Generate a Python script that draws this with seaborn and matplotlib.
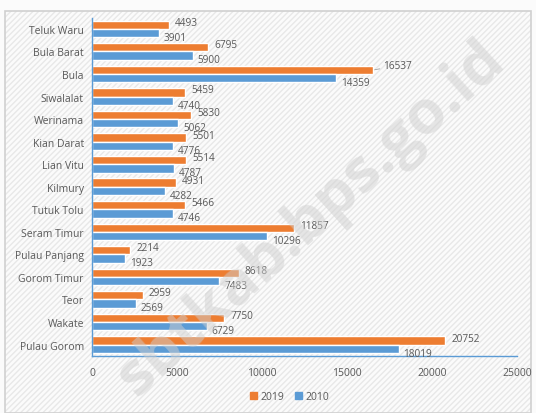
import matplotlib
matplotlib.use("Agg")
import matplotlib.pyplot as plt
import matplotlib.patches as mpatches
import seaborn as sns
import pandas as pd

sns.set_theme(style="white")
plt.rcParams["font.family"] = ["Open Sans", "DejaVu Sans"]
plt.rcParams["hatch.color"] = "#e8e8e8"

districts = ["Teluk Waru", "Bula Barat", "Bula", "Siwalalat", "Werinama",
             "Kian Darat", "Lian Vitu", "Kilmury", "Tutuk Tolu", "Seram Timur",
             "Pulau Panjang", "Gorom Timur", "Teor", "Wakate", "Pulau Gorom"]
pop_2019 = [4493, 6795, 16537, 5459, 5830, 5501, 5514, 4931, 5466, 11857,
            2214, 8618, 2959, 7750, 20752]
pop_2010 = [3901, 5900, 14359, 4740, 5062, 4776, 4787, 4282, 4746, 10296,
            1923, 7483, 2569, 6729, 18019]
years = ["2019", "2010"]
colors = {"2019": "#ED7D31", "2010": "#5B9BD5"}
text_gray = "#595959"

df = pd.DataFrame({
    "district": districts * 2,
    "year": ["2019"] * len(districts) + ["2010"] * len(districts),
    "population": pop_2019 + pop_2010,
})

fig = plt.figure(figsize=(5.36, 4.14), dpi=100)
fig.patch.set_facecolor("#fbfbfb")

# hatched background + light border like the screenshot
bg = mpatches.Rectangle((0.01, 0.0), 0.98, 0.97, transform=fig.transFigure,
                        facecolor="#fbfbfb", edgecolor="#e8e8e8", hatch="//////",
                        linewidth=0, zorder=-3)
fig.patches.append(bg)
border = mpatches.Rectangle((0.01, 0.0), 0.98, 0.97, transform=fig.transFigure,
                            facecolor="none", edgecolor="#d0d0d0", linewidth=1.2,
                            zorder=-2)
fig.patches.append(border)

ax = fig.add_axes([0.172, 0.138, 0.793, 0.817])
ax.patch.set_alpha(0)

sns.barplot(data=df, y="district", x="population", hue="year", hue_order=years,
            palette=colors, orient="h", width=0.74, saturation=1, ax=ax,
            legend=False)

ax.set_xlim(0, 25000)
ax.set_ylim(len(districts) - 0.5, -0.5)
ax.set_xticks([0, 5000, 10000, 15000, 20000, 25000])
ax.set_xlabel("")
ax.set_ylabel("")
ax.tick_params(axis="both", length=0, labelsize=7.5, colors=text_gray)
ax.tick_params(axis="x", pad=8)
ax.tick_params(axis="y", pad=6)

for s in ["top", "right"]:
    ax.spines[s].set_visible(False)
for s in ["left", "bottom"]:
    ax.spines[s].set_color("#5B9BD5")
    ax.spines[s].set_linewidth(1.0)

# data labels
lbl_size = 7.2
for i, (a, b) in enumerate(zip(pop_2019, pop_2010)):
    if districts[i] == "Bula":
        ax.annotate(f"{a}", xy=(a, i - 0.18), xytext=(7, 3), textcoords="offset points",
                    fontsize=lbl_size, color=text_gray, va="center", ha="left",
                    arrowprops=dict(arrowstyle="-", color="#a0a0a0", lw=0.6,
                                    shrinkA=0, shrinkB=1))
    else:
        ax.annotate(f"{a}", xy=(a, i - 0.18), xytext=(4.5, 1.8), textcoords="offset points",
                    fontsize=lbl_size, color=text_gray, va="center", ha="left")
    ax.annotate(f"{b}", xy=(b, i + 0.18), xytext=(3.5, -3.2), textcoords="offset points",
                fontsize=lbl_size, color=text_gray, va="center", ha="left")

handles = [mpatches.Patch(color=colors[y], label=y) for y in years]
fig.legend(handles=handles, loc="center", bbox_to_anchor=(0.54, 0.04), ncol=2,
           frameon=False, fontsize=7.5, handlelength=0.7, handleheight=0.7,
           handletextpad=0.3, columnspacing=1.0, labelcolor=text_gray)

# watermark
fig.text(0.58, 0.47, "sbtkab.bps.go.id", rotation=42, fontsize=44,
         fontweight="bold", color="#cfcfcf", alpha=0.5, ha="center", va="center",
         zorder=10)

fig.savefig("out.png", dpi=100, facecolor=fig.get_facecolor())
